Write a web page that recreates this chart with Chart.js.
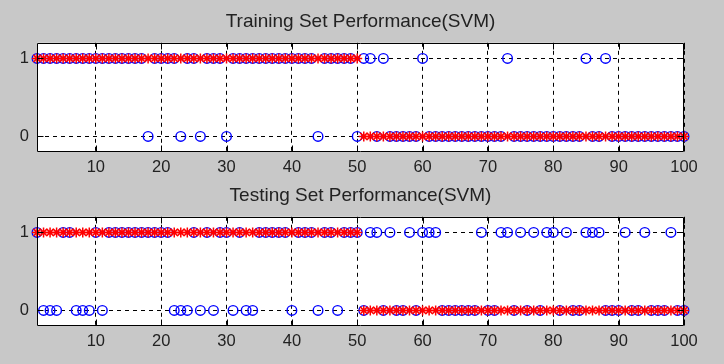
<!DOCTYPE html>
<html><head><meta charset="utf-8">
<script src="https://cdn.jsdelivr.net/npm/chart.js@4/dist/chart.umd.min.js"></script>
<style>
html,body{margin:0;padding:0;background:#c8c8c8;}
body{width:724px;height:364px;position:relative;overflow:hidden;}
.box{position:absolute;left:0;width:724px;height:182px;}
canvas{display:block;}
</style></head><body>
<div class="box" style="top:0"><canvas id="c1" width="724" height="182" style="width:724px;height:182px"></canvas></div>
<div class="box" style="top:174px"><canvas id="c2" width="724" height="182" style="width:724px;height:182px"></canvas></div>
<script>
// sample index (1..100)
const sampleIndex = [
  1,2,3,4,5,6,7,8,9,10,11,12,13,14,15,16,17,18,19,20,
  21,22,23,24,25,26,27,28,29,30,31,32,33,34,35,36,37,38,39,40,
  41,42,43,44,45,46,47,48,49,50,51,52,53,54,55,56,57,58,59,60,
  61,62,63,64,65,66,67,68,69,70,71,72,73,74,75,76,77,78,79,80,
  81,82,83,84,85,86,87,88,89,90,91,92,93,94,95,96,97,98,99,100];

// true class labels (red *)
const trainActual = [
  1,1,1,1,1,1,1,1,1,1, 1,1,1,1,1,1,1,1,1,1, 1,1,1,1,1,1,1,1,1,1, 1,1,1,1,1,1,1,1,1,1, 1,1,1,1,1,1,1,1,1,1,
  0,0,0,0,0,0,0,0,0,0, 0,0,0,0,0,0,0,0,0,0, 0,0,0,0,0,0,0,0,0,0, 0,0,0,0,0,0,0,0,0,0, 0,0,0,0,0,0,0,0,0,0];
// SVM predictions on training set (blue o)
const trainPredicted = [
  1,1,1,1,1,1,1,1,1,1,
  1,1,1,1,1,1,1,0,1,1,
  1,1,0,1,1,0,1,1,1,0,
  1,1,1,1,1,1,1,1,1,1,
  1,1,1,0,1,1,1,1,1,0,
  1,1,0,1,0,0,0,0,0,1,
  0,0,0,0,0,0,0,0,0,0,
  0,0,1,0,0,0,0,0,0,0,
  0,0,0,0,1,0,0,1,0,0,
  0,0,0,0,0,0,0,0,0,0];

const testActual = [
  1,1,1,1,1,1,1,1,1,1, 1,1,1,1,1,1,1,1,1,1, 1,1,1,1,1,1,1,1,1,1, 1,1,1,1,1,1,1,1,1,1, 1,1,1,1,1,1,1,1,1,1,
  0,0,0,0,0,0,0,0,0,0, 0,0,0,0,0,0,0,0,0,0, 0,0,0,0,0,0,0,0,0,0, 0,0,0,0,0,0,0,0,0,0, 0,0,0,0,0,0,0,0,0,0];
const testPredicted = [
  1,0,0,0,1,1,0,0,0,1,
  0,1,1,1,1,1,1,1,1,1,
  1,0,0,0,1,0,1,0,1,1,
  0,1,0,0,1,1,1,1,1,0,
  1,1,1,0,1,1,0,1,1,1,
  0,1,1,0,1,0,0,1,0,1,
  1,1,0,0,0,0,0,0,1,0,
  0,1,1,0,1,0,1,0,1,1,
  0,1,0,0,1,1,1,0,0,0,
  1,0,0,1,0,0,0,1,0,0];

const xTickValues = [10,20,30,40,50,60,70,80,90,100];
const yTickValues = [0,1];
const titles = ['Training Set Performance(SVM)', 'Testing Set Performance(SVM)'];

const FONT = "'Liberation Sans', Arial, sans-serif";

const axesPlugin = {
  id: 'matlabAxes',
  beforeDraw(chart) {
    const a = chart.chartArea, ctx = chart.ctx;
    ctx.save();
    ctx.fillStyle = '#ffffff';
    ctx.fillRect(a.left, a.top, a.right - a.left, a.bottom - a.top);
    ctx.restore();
  },
  afterDraw(chart) {
    const a = chart.chartArea, ctx = chart.ctx;
    const xs = chart.scales.x, ys = chart.scales.y;
    ctx.save();
    ctx.strokeStyle = '#000';
    ctx.lineWidth = 1;
    ctx.setLineDash([]);
    ctx.beginPath();
    const L = Math.round(a.left) + 0.5, R = Math.round(a.right) - 0.5;
    const T = Math.round(a.top) + 0.5, B = Math.round(a.bottom) - 0.5;
    ctx.rect(L, T, R - L, B - T);
    const tl = 6;
    xs.ticks.forEach(t => {
      const px = Math.round(xs.getPixelForValue(t.value)) + 0.5;
      ctx.moveTo(px, T); ctx.lineTo(px, T + tl);
      ctx.moveTo(px, B); ctx.lineTo(px, B - tl);
    });
    ys.ticks.forEach(t => {
      const py = Math.round(ys.getPixelForValue(t.value)) + 0.5;
      ctx.moveTo(L, py); ctx.lineTo(L + tl, py);
      ctx.moveTo(R, py); ctx.lineTo(R - tl, py);
    });
    ctx.stroke();
    ctx.restore();
  }
};

function makeChart(id, title, actual, predicted) {
  return new Chart(document.getElementById(id), {
    type: 'scatter',
    data: {
      datasets: [
        {
          label: 'actual',
          data: sampleIndex.map((x, i) => ({x: x, y: actual[i]})),
          showLine: false,
          pointStyle: 'star',
          pointRadius: 5,
          borderColor: '#ff0000',
          backgroundColor: '#ff0000',
          pointBorderWidth: 1.5,
          order: 0,
          clip: false
        },
        {
          label: 'predicted',
          data: sampleIndex.map((x, i) => ({x: x, y: predicted[i]})),
          showLine: false,
          pointStyle: 'circle',
          pointRadius: 4.8,
          borderColor: '#0000ff',
          backgroundColor: 'rgba(0,0,0,0)',
          pointBorderWidth: 1.4,
          order: 1,
          clip: false
        }
      ]
    },
    options: {
      responsive: false,
      animation: false,
      events: [],
      layout: { padding: { left: 0, right: 40, top: 0, bottom: 0 } },
      plugins: {
        legend: { display: false },
        tooltip: { enabled: false },
        title: {
          display: true,
          fullSize: false,
          text: title,
          color: '#222',
          font: { family: FONT, size: 19, weight: 'normal' },
          padding: { top: 10, bottom: 10 }
        }
      },
      scales: {
        x: {
          type: 'linear',
          min: 1, max: 100,
          afterBuildTicks: s => { s.ticks = xTickValues.map(v => ({value: v})); },
          afterFit: s => { s.height = 30; },
          grid: { color: '#000', lineWidth: 1, drawTicks: false },
          border: { display: false, dash: [4, 4] },
          ticks: { color: '#222', font: { family: FONT, size: 16.5 }, padding: 6, maxRotation: 0, autoSkip: false }
        },
        y: {
          type: 'linear',
          min: -0.2, max: 1.2,
          afterBuildTicks: s => { s.ticks = yTickValues.map(v => ({value: v})); },
          afterFit: s => { s.width = 37; },
          grid: { color: '#000', lineWidth: 1, drawTicks: false },
          border: { display: false, dash: [4, 4] },
          ticks: { color: '#222', font: { family: FONT, size: 16.5 }, padding: 8 }
        }
      }
    },
    plugins: [axesPlugin]
  });
}

makeChart('c1', titles[0], trainActual, trainPredicted);
makeChart('c2', titles[1], testActual, testPredicted);
</script>
</body></html>
